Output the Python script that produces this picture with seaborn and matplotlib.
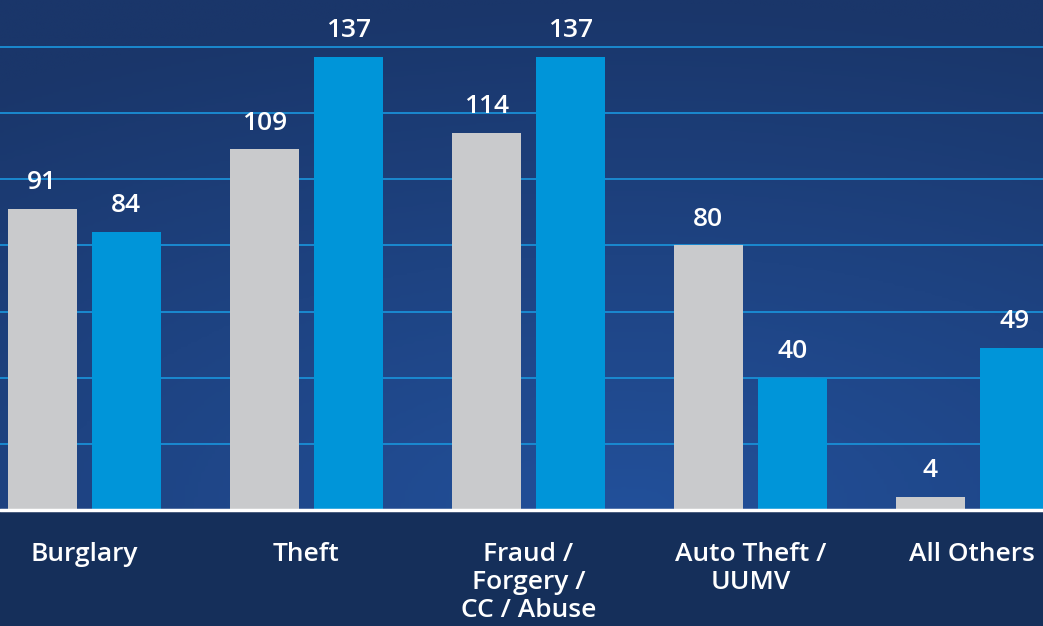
import numpy as np
import pandas as pd
import matplotlib
matplotlib.use("Agg")
import matplotlib.pyplot as plt
import seaborn as sns
from matplotlib.colors import LinearSegmentedColormap

# Data
categories = ["Burglary", "Theft", "Fraud /\nForgery /\nCC / Abuse", "Auto Theft /\nUUMV", "All Others"]
prior_year = [91, 109, 114, 80, 4]
current_year = [84, 137, 137, 40, 49]
series_names = ["Prior Year", "Current Year"]
grid_ticks = [20, 40, 60, 80, 100, 120, 140]

df = pd.DataFrame({
    "Category": categories * 2,
    "Series": [series_names[0]] * len(categories) + [series_names[1]] * len(categories),
    "Count": prior_year + current_year,
})

sns.set_style("white")
plt.rcParams["font.family"] = ["Open Sans", "DejaVu Sans"]

fig = plt.figure(figsize=(10.43, 6.26), dpi=100)
fig.patch.set_facecolor("#152f5a")
ax = fig.add_axes([0, 1 - 510 / 626, 1, 510 / 626])
ax.set_facecolor("#1d4282")

# Soft radial gradient behind the bars, brightest near the bottom middle
yy, xx = np.mgrid[0:1:200j, 0:1:300j]
dist = np.sqrt(((xx - 0.6) * 1.0) ** 2 + ((yy - 1.0) * 1.1) ** 2)
grad = np.clip(1 - dist / 1.1, 0, 1)
cmap = LinearSegmentedColormap.from_list("bg", ["#1a366a", "#22509a"])
ax.imshow(grad, extent=[0, 1, 0, 1], transform=ax.transAxes, cmap=cmap,
          aspect="auto", zorder=0, origin="upper")

for t in grid_ticks:
    ax.axhline(t, color="#1a8fd6", lw=1.3, zorder=1)

sns.barplot(data=df, x="Category", y="Count", hue="Series",
            palette=["#c9cacc", "#0095d9"], width=0.757, gap=0.177,
            saturation=1, linewidth=0, legend=False, ax=ax, zorder=2)

for cont in ax.containers:
    ax.bar_label(cont, padding=10, color="white", fontsize=19, fontweight="semibold", zorder=3)

ax.axhline(0, color="white", lw=2.5, zorder=4, clip_on=False)

ax.set_xlim(-0.38, 4.318)
ax.set_ylim(0, 154.2)
ax.set_xlabel("")
ax.set_ylabel("")
ax.set_yticks([])
ax.tick_params(axis="x", length=0, pad=23, labelsize=19, labelcolor="white")
for lbl in ax.get_xticklabels():
    lbl.set_linespacing(1.17)
    lbl.set_verticalalignment("top")
    lbl.set_fontweight("semibold")
for s in ax.spines.values():
    s.set_visible(False)

fig.savefig("out.png", dpi=100, facecolor=fig.get_facecolor())
